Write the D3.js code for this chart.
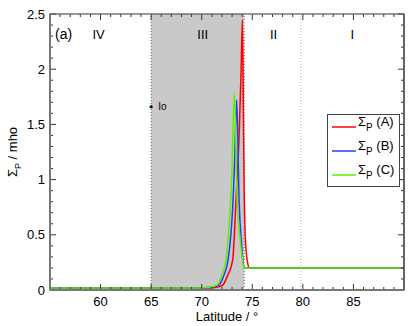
<!DOCTYPE html>
<html><head><meta charset="utf-8">
<script src="https://cdn.jsdelivr.net/npm/d3@7"></script>
<style>body{margin:0;background:#fff}svg{display:block;font-family:"Liberation Sans",Arial,sans-serif}</style>
</head><body><svg id="c" width="411" height="326"></svg>
<script>
// Data
const latA = [55, 70, 71, 71.5, 72.08, 72.6, 73.06, 73.39, 73.7, 73.9, 74.02, 74.12, 74.2, 74.3, 74.45, 74.6, 74.7, 90];
const valA = [0.018, 0.018, 0.02, 0.025, 0.045, 0.14, 0.27, 0.81, 1.4, 2.0, 2.45, 1.6, 0.9, 0.5, 0.3, 0.22, 0.2, 0.2];
const latB = [55, 70, 70.6, 71.2, 71.7, 72.2, 72.6, 73.1, 73.25, 73.46, 73.7, 73.95, 74.1, 74.2, 90];
const valB = [0.018, 0.018, 0.022, 0.03, 0.045, 0.136, 0.27, 0.81, 1.15, 1.72, 0.8, 0.4, 0.25, 0.2, 0.2];
const latC = [55, 70, 70.5, 71.0, 71.5, 72.0, 72.4, 72.86, 72.96, 73.22, 73.52, 73.8, 74.0, 74.2, 90];
const valC = [0.018, 0.018, 0.022, 0.03, 0.045, 0.136, 0.27, 0.81, 1.0, 1.79, 0.8, 0.45, 0.3, 0.2, 0.2];
const seriesNames = ["(A)", "(B)", "(C)"];
const seriesColors = ["#ff0000", "#1f3cff", "#5ef000"];
const xTicks = [60, 65, 70, 75, 80, 85];
const yTicks = [0, 0.5, 1, 1.5, 2, 2.5];
const regionLabels = ["IV", "III", "II", "I"];
const regionLabelLat = [59.8, 70.1, 77.1, 84.9];
const regionBounds = [65, 74.2, 79.8];
const io = {lat: 65, val: 1.66, name: "Io"};

const svg = d3.select("#c");
const m = {l: 50, r: 404, t: 14, b: 290};
const x = d3.scaleLinear().domain([55, 90]).range([m.l, m.r]);
const y = d3.scaleLinear().domain([0, 2.5]).range([m.b, m.t]);

// shaded region III
svg.append("rect").attr("x", x(regionBounds[0])).attr("y", y(2.5))
  .attr("width", x(regionBounds[1]) - x(regionBounds[0])).attr("height", y(0) - y(2.5))
  .attr("fill", "#c9c9c9");

// dotted boundaries
regionBounds.forEach((b, i) => {
  svg.append("line").attr("x1", x(b)).attr("x2", x(b)).attr("y1", y(0)).attr("y2", y(2.5))
    .attr("stroke", i < 2 ? "#666" : "#aaa").attr("stroke-width", 1).attr("stroke-dasharray", "1,2");
});

// curves
const line = d3.line().x(d => x(d[0])).y(d => y(d[1])).curve(d3.curveMonotoneX);
const data = [d3.zip(latA, valA), d3.zip(latB, valB), d3.zip(latC, valC)];
data.forEach((d, i) => {
  svg.append("path").datum(d).attr("d", line).attr("fill", "none")
    .attr("stroke", seriesColors[i]).attr("stroke-width", 1.5);
});

// axes
const g = svg.append("g").attr("font-size", 13).attr("fill", "#000");
const major = 6, minor = 3;
const xMinor = d3.range(56, 90, 1);
const yMinor = d3.range(0, 2.51, 0.1);
xMinor.forEach(v => {
  const len = xTicks.includes(v) ? major : minor;
  g.append("line").attr("x1", x(v)).attr("x2", x(v)).attr("y1", y(0)).attr("y2", y(0) - len).attr("stroke", "#333");
  g.append("line").attr("x1", x(v)).attr("x2", x(v)).attr("y1", y(2.5)).attr("y2", y(2.5) + len).attr("stroke", "#333");
});
yMinor.forEach(v => {
  const isMaj = yTicks.some(t => Math.abs(t - v) < 1e-6);
  const len = isMaj ? major : minor;
  g.append("line").attr("x1", x(55)).attr("x2", x(55) + len).attr("y1", y(v)).attr("y2", y(v)).attr("stroke", "#333");
  g.append("line").attr("x1", x(90)).attr("x2", x(90) - len).attr("y1", y(v)).attr("y2", y(v)).attr("stroke", "#333");
});
// frame
svg.append("rect").attr("x", x(55)).attr("y", y(2.5)).attr("width", x(90) - x(55)).attr("height", y(0) - y(2.5))
  .attr("fill", "none").attr("stroke", "#555").attr("stroke-width", 1.2);
svg.append("line").attr("x1", x(55)).attr("x2", x(55)).attr("y1", y(0)).attr("y2", y(2.5)).attr("stroke", "#777").attr("stroke-width", 2);
svg.append("line").attr("x1", x(55)).attr("x2", x(90)).attr("y1", y(0)).attr("y2", y(0)).attr("stroke", "#777").attr("stroke-width", 2);
svg.append("line").attr("x1", x(90)).attr("x2", x(90)).attr("y1", y(0)).attr("y2", y(2.5)).attr("stroke", "#555").attr("stroke-width", 1.5);

xTicks.forEach(v => {
  g.append("text").attr("x", x(v)).attr("y", 306).attr("text-anchor", "middle").text(v);
});
yTicks.forEach(v => {
  g.append("text").attr("x", 45).attr("y", y(v) + 4.5).attr("text-anchor", "end").text(v);
});

// axis titles
svg.append("text").attr("x", 227).attr("y", 321).attr("text-anchor", "middle").attr("font-size", 13).text("Latitude / °");
const yl = svg.append("text").attr("transform", "translate(17,152) rotate(-90)").attr("text-anchor", "middle").attr("font-size", 13);
yl.append("tspan").text("Σ");
yl.append("tspan").attr("font-size", 9).attr("dy", 4).text("P");
yl.append("tspan").attr("dy", -4).text(" / mho");

// labels
svg.append("text").attr("x", 55).attr("y", 39).attr("font-size", 14).text("(a)");
regionLabels.forEach((t, i) => {
  svg.append("text").attr("x", x(regionLabelLat[i])).attr("y", 39).attr("text-anchor", "middle").attr("font-size", 13).text(t);
});

// Io
svg.append("circle").attr("cx", x(io.lat)).attr("cy", y(io.val)).attr("r", 1.6).attr("fill", "#000");
svg.append("text").attr("x", x(io.lat) + 7).attr("y", y(io.val) + 3).attr("font-size", 10).text(io.name);

// legend
const lg = svg.append("g");
lg.append("rect").attr("x", 327.5).attr("y", 114.5).attr("width", 72).attr("height", 72)
  .attr("fill", "#fff").attr("stroke", "#444").attr("stroke-width", 1);
seriesNames.forEach((n, i) => {
  const yy = 127 + i * 24;
  lg.append("line").attr("x1", 332).attr("x2", 356).attr("y1", yy).attr("y2", yy).attr("stroke", seriesColors[i]).attr("stroke-width", 1.5);
  const t = lg.append("text").attr("x", 358).attr("y", yy - 1).attr("font-size", 13);
  t.append("tspan").text("Σ");
  t.append("tspan").attr("font-size", 10).attr("dy", 5).text("P");
  t.append("tspan").attr("dy", -5).text(" " + n);
});
</script></body></html>
